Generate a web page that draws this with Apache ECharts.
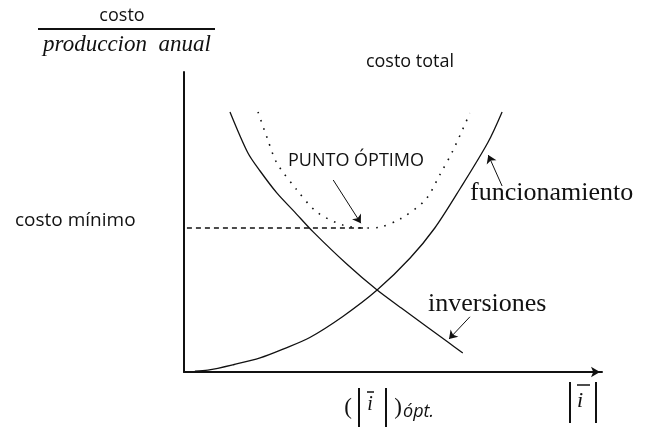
<!DOCTYPE html>
<html>
<head>
<meta charset="utf-8">
<script src="https://cdn.jsdelivr.net/npm/echarts@6/dist/echarts.min.js"></script>
<style>
  html, body { margin: 0; padding: 0; background: #fff; }
  #chart { width: 651px; height: 431px; }
</style>
</head>
<body>
<div id="chart"></div>
<script>
// Investment cost per unit of annual production, falls as |i| grows
const inversionesX = [11.0, 15.3, 18.2, 22.2, 26.5, 30.9, 39.0, 46.2, 52.4, 58.1, 63.2, 66.7];
const inversionesY = [86.7, 73.0, 67.0, 59.7, 53.3, 46.7, 35.9, 27.3, 20.9, 15.1, 9.9, 6.3];

// Operating cost, rises as |i| grows
const funcionamientoX = [2.6, 5.7, 12.0, 18.2, 24.0, 30.1, 38.0, 46.2, 54.1, 60.0, 66.0, 72.7, 76.1];
const funcionamientoY = [0.3, 0.6, 2.5, 4.7, 7.8, 11.5, 18.5, 27.3, 38.0, 48.0, 61.0, 76.5, 86.7];

// Total cost curve with its minimum at the optimum
const costoTotalX = [17.7, 19.9, 22.2, 27.0, 31.8, 38.0, 43.8, 46.9, 51.7, 57.7, 61.2, 64.4, 68.4];
const costoTotalY = [86.7, 78.0, 69.7, 60.7, 53.3, 49.0, 48.0, 48.3, 51.0, 57.3, 65.7, 74.0, 86.3];

// Optimum point and minimum cost
const optimoX = 43.8;
const costoMinimo = 48.0;

const toPairs = (xs, ys) => xs.map((x, i) => [x, ys[i]]);

const serifFont = '"Liberation Serif", "DejaVu Serif", serif';
const sansFont = '"Open Sans", "Noto Sans", sans-serif';
const ink = '#111';

const chart = echarts.init(document.getElementById('chart'));

const arrowLine = (from, to) => [
  { coord: from, symbol: 'none' },
  { coord: to, symbol: 'arrow' }
];

const pointer = (from, to) => ({
  silent: true, symbolSize: 8,
  lineStyle: { color: ink, width: 1, type: 'solid' },
  label: { show: false },
  data: [arrowLine(from, to)]
});

chart.setOption({
  backgroundColor: '#fff',
  animation: false,
  grid: { left: 184, right: 49, top: 72, bottom: 59 },
  xAxis: {
    type: 'value', min: 0, max: 100,
    axisLine: {
      show: true, onZero: false,
      symbol: ['none', 'arrow'], symbolSize: [8, 9], symbolOffset: [0, -2],
      lineStyle: { color: ink, width: 2 }
    },
    axisTick: { show: false }, axisLabel: { show: false }, splitLine: { show: false }
  },
  yAxis: {
    type: 'value', min: 0, max: 100,
    axisLine: { show: true, onZero: false, lineStyle: { color: ink, width: 2 } },
    axisTick: { show: false }, axisLabel: { show: false }, splitLine: { show: false }
  },
  series: [
    {
      name: 'inversiones', type: 'line', smooth: 0.3, showSymbol: false,
      data: toPairs(inversionesX, inversionesY),
      lineStyle: { color: ink, width: 1.3 },
      markLine: pointer([68.4, 18.4], [63.4, 11.0])
    },
    {
      name: 'funcionamiento', type: 'line', smooth: 0.3, showSymbol: false,
      data: toPairs(funcionamientoX, funcionamientoY),
      lineStyle: { color: ink, width: 1.3 },
      markLine: pointer([76.1, 62.0], [72.8, 72.3])
    },
    {
      name: 'costo total', type: 'line', smooth: 0.3, showSymbol: false,
      data: toPairs(costoTotalX, costoTotalY),
      lineStyle: { color: ink, width: 1.6, type: [1.6, 7] },
      markLine: pointer([35.7, 64.0], [42.3, 49.6])
    },
    {
      name: 'costo mínimo', type: 'line', showSymbol: false,
      data: [[0.7, costoMinimo], [optimoX, costoMinimo]],
      lineStyle: { color: ink, width: 1.3, type: [5, 4] }
    }
  ],
  graphic: [
    // y-axis caption as a fraction
    { type: 'text', x: 122, y: 16, style: { text: 'costo', font: '18px ' + sansFont, fill: ink, align: 'center', verticalAlign: 'middle' } },
    { type: 'line', shape: { x1: 38, y1: 29, x2: 215, y2: 29 }, style: { stroke: ink, lineWidth: 2 } },
    { type: 'text', x: 127, y: 45, style: { text: 'produccion  anual', font: 'italic 23px ' + serifFont, fill: ink, align: 'center', verticalAlign: 'middle' } },

    { type: 'text', x: 410, y: 62, style: { text: 'costo total', font: '18px ' + sansFont, fill: ink, align: 'center', verticalAlign: 'middle' } },
    { type: 'text', x: 288, y: 161, style: { text: 'PUNTO ÓPTIMO', font: '18px ' + sansFont, fill: ink, align: 'left', verticalAlign: 'middle' } },
    { type: 'text', x: 15, y: 221, style: { text: 'costo mínimo', font: '19px ' + sansFont, fill: ink, align: 'left', verticalAlign: 'middle' } },
    { type: 'text', x: 470, y: 193, style: { text: 'funcionamiento', font: '26px ' + serifFont, fill: ink, align: 'left', verticalAlign: 'middle' } },
    { type: 'text', x: 428, y: 304, style: { text: 'inversiones', font: '26px ' + serifFont, fill: ink, align: 'left', verticalAlign: 'middle' } },

    // optimum value notation under the x-axis: ( |ī| )ópt.
    { type: 'text', x: 348, y: 408, style: { text: '(', font: '23px ' + serifFont, fill: ink, align: 'center', verticalAlign: 'middle' } },
    { type: 'line', shape: { x1: 359, y1: 388, x2: 359, y2: 427 }, style: { stroke: ink, lineWidth: 2 } },
    { type: 'line', shape: { x1: 367, y1: 392, x2: 374, y2: 392 }, style: { stroke: ink, lineWidth: 1.5 } },
    { type: 'text', x: 370, y: 405, style: { text: 'i', font: 'italic 20px ' + serifFont, fill: ink, align: 'center', verticalAlign: 'middle' } },
    { type: 'line', shape: { x1: 386, y1: 388, x2: 386, y2: 427 }, style: { stroke: ink, lineWidth: 2 } },
    { type: 'text', x: 398, y: 408, style: { text: ')', font: '23px ' + serifFont, fill: ink, align: 'center', verticalAlign: 'middle' } },
    { type: 'text', x: 403, y: 412, style: { text: 'ópt.', font: 'italic 18px ' + sansFont, fill: ink, align: 'left', verticalAlign: 'middle' } },

    // x-axis caption |ī|
    { type: 'line', shape: { x1: 570, y1: 382, x2: 570, y2: 423 }, style: { stroke: ink, lineWidth: 2 } },
    { type: 'line', shape: { x1: 577, y1: 385, x2: 590, y2: 385 }, style: { stroke: ink, lineWidth: 1.5 } },
    { type: 'text', x: 580, y: 401, style: { text: 'i', font: 'italic 22px ' + serifFont, fill: ink, align: 'center', verticalAlign: 'middle' } },
    { type: 'line', shape: { x1: 596, y1: 382, x2: 596, y2: 423 }, style: { stroke: ink, lineWidth: 2 } }
  ]
});
</script>
</body>
</html>
